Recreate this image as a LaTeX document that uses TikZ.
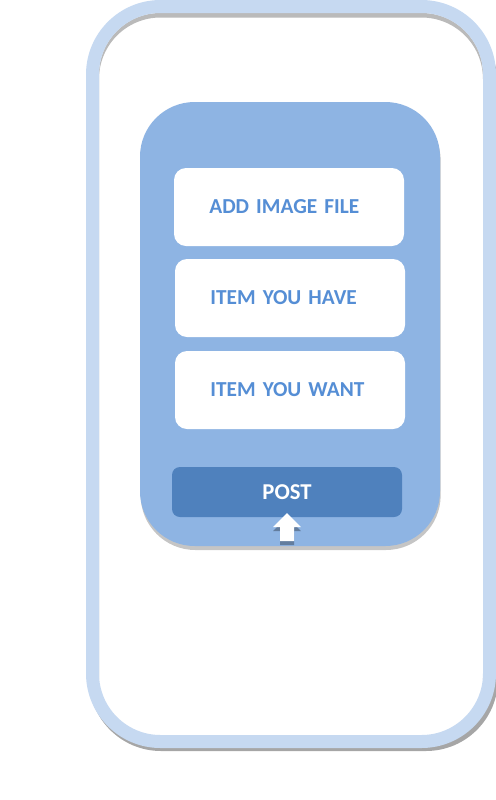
\documentclass[tikz,border=0pt]{standalone}
\usepackage{fontspec}
\setmainfont{Carlito}
\usepackage{xcolor}
\usepackage{tikz}
\usetikzlibrary{shadows}
\definecolor{framecol}{HTML}{C6D9F1}
\definecolor{panelcol}{HTML}{8EB4E3}
\definecolor{labelcol}{HTML}{558ED5}
\definecolor{postcol}{HTML}{4F81BD}

\begin{document}
\begin{tikzpicture}[x=0.75pt,y=-0.75pt,
    field/.style={fill=white, rounded corners=9pt, minimum width=172.5pt, minimum height=58.5pt,
        inner xsep=26.5pt, text width=119.5pt, align=left,
        text=labelcol, font=\fontsize{16}{19}\selectfont\bfseries},
    postbtn/.style={fill=postcol, rounded corners=6pt, minimum width=172.5pt, minimum height=37.5pt,
        text=white, font=\fontsize{17}{20}\selectfont\bfseries}]
    \useasboundingbox (0,0) rectangle (496,800);
    \coordinate (F1) at (92.5, 6.5);
    \coordinate (F2) at (489.5, 741.5);
    \coordinate (P1) at (140, 102);
    \coordinate (P2) at (440, 546);

    % outer frame
    \fill[black, opacity=0.35, rounded corners=54pt] (89,13) rectangle (498,751);
    \fill[white, rounded corners=51pt] (F1) rectangle (F2);
    \begin{scope}
        \clip[rounded corners=46pt] (99,13) rectangle (483,735);
        \draw[black!45, line width=9.75pt, rounded corners=51pt, opacity=0.6] (92.5,11) rectangle (489.5,746);
    \end{scope}
    \draw[framecol, line width=9.75pt, rounded corners=51pt] (F1) rectangle (F2);

    % panel
    \fill[panelcol, rounded corners=41pt, drop shadow={shadow xshift=0.5pt, shadow yshift=-3pt, opacity=0.45}] (P1) rectangle (P2);

    \node[field] (img) at (289, 207) {ADD IMAGE FILE};
    \node[field] (have) at (290, 298) {ITEM YOU HAVE};
    \node[field] (want) at (290, 390) {ITEM YOU WANT};
    \node[postbtn] (post) at (287, 492) {POST};

    % arrow
    \fill[black, opacity=0.3] (287,517) -- (301,531) -- (294,531) -- (294,545) -- (280,545) -- (280,531) -- (273,531) -- cycle;
    \fill[white] (287,513) -- (301,527) -- (294,527) -- (294,541) -- (280,541) -- (280,527) -- (273,527) -- cycle;
\end{tikzpicture}
\end{document}
